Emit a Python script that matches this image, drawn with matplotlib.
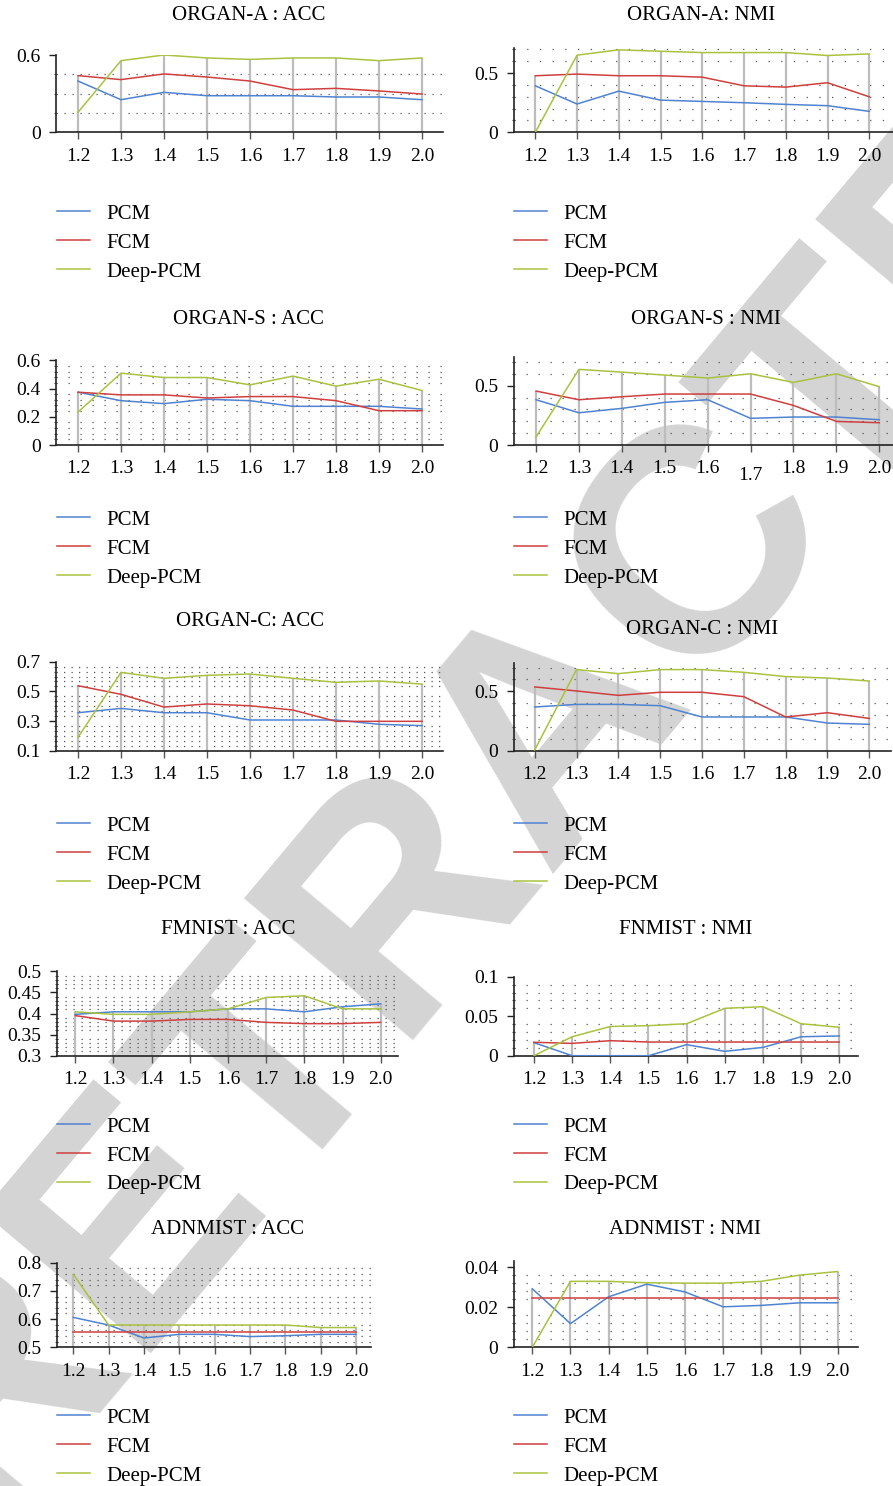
import numpy as np
import matplotlib
matplotlib.use("Agg")
import matplotlib.pyplot as plt
from matplotlib.ticker import MultipleLocator
import matplotlib.transforms as mtransforms

plt.rcParams['font.family'] = ['Liberation Serif', 'DejaVu Serif']
plt.rcParams['lines.scale_dashes'] = False

W, H = 893, 1486
DPI = 100

# ---------------- data ----------------
x_vals = [1.2, 1.3, 1.4, 1.5, 1.6, 1.7, 1.8, 1.9, 2.0]
x_labels = ['1.2', '1.3', '1.4', '1.5', '1.6', '1.7', '1.8', '1.9', '2.0']
methods = ['PCM', 'FCM', 'Deep-PCM']

organ_a_acc_pcm = [0.398, 0.253, 0.310, 0.284, 0.284, 0.284, 0.274, 0.274, 0.253]
organ_a_acc_fcm = [0.440, 0.409, 0.453, 0.429, 0.398, 0.331, 0.341, 0.321, 0.297]
organ_a_acc_deep = [0.155, 0.556, 0.600, 0.577, 0.566, 0.577, 0.577, 0.556, 0.577]

organ_a_nmi_pcm = [0.393, 0.239, 0.348, 0.272, 0.261, 0.250, 0.236, 0.225, 0.177]
organ_a_nmi_fcm = [0.478, 0.492, 0.478, 0.478, 0.466, 0.393, 0.382, 0.419, 0.300]
organ_a_nmi_deep = [0.000, 0.652, 0.697, 0.685, 0.674, 0.674, 0.674, 0.649, 0.663]

organ_s_acc_pcm = [0.374, 0.314, 0.293, 0.324, 0.314, 0.274, 0.274, 0.274, 0.255]
organ_s_acc_fcm = [0.374, 0.355, 0.355, 0.333, 0.343, 0.343, 0.314, 0.243, 0.243]
organ_s_acc_deep = [0.233, 0.509, 0.478, 0.478, 0.426, 0.488, 0.417, 0.466, 0.386]

organ_s_nmi_pcm = [0.382, 0.272, 0.309, 0.360, 0.382, 0.225, 0.236, 0.236, 0.213]
organ_s_nmi_fcm = [0.455, 0.382, 0.407, 0.430, 0.430, 0.430, 0.334, 0.199, 0.188]
organ_s_nmi_deep = [0.067, 0.638, 0.615, 0.590, 0.565, 0.601, 0.528, 0.601, 0.492]

organ_c_acc_pcm = [0.356, 0.385, 0.356, 0.356, 0.307, 0.307, 0.307, 0.278, 0.269]
organ_c_acc_fcm = [0.538, 0.480, 0.394, 0.415, 0.403, 0.374, 0.298, 0.298, 0.298]
organ_c_acc_deep = [0.190, 0.628, 0.588, 0.608, 0.617, 0.588, 0.561, 0.570, 0.549]

organ_c_nmi_pcm = [0.368, 0.390, 0.390, 0.379, 0.284, 0.284, 0.284, 0.233, 0.222]
organ_c_nmi_fcm = [0.537, 0.503, 0.466, 0.492, 0.492, 0.455, 0.284, 0.320, 0.272]
organ_c_nmi_deep = [0.006, 0.683, 0.649, 0.683, 0.683, 0.660, 0.624, 0.612, 0.587]

fmnist_acc_pcm = [0.398, 0.404, 0.404, 0.404, 0.411, 0.411, 0.404, 0.416, 0.423]
fmnist_acc_fcm = [0.395, 0.382, 0.382, 0.386, 0.386, 0.379, 0.376, 0.376, 0.379]
fmnist_acc_deep = [0.404, 0.398, 0.398, 0.404, 0.411, 0.438, 0.442, 0.411, 0.411]

fmnist_nmi_pcm = [0.0165, 0.0, 0.0, 0.0, 0.0140, 0.0055, 0.0105, 0.0240, 0.0250]
fmnist_nmi_fcm = [0.0170, 0.0156, 0.0190, 0.0173, 0.0173, 0.0173, 0.0173, 0.0173, 0.0173]
fmnist_nmi_deep = [0.0, 0.0240, 0.0370, 0.0380, 0.0405, 0.0600, 0.0620, 0.0405, 0.0360]

adnmist_acc_pcm = [0.606, 0.579, 0.533, 0.546, 0.546, 0.538, 0.541, 0.546, 0.546]
adnmist_acc_fcm = [0.555, 0.555, 0.555, 0.555, 0.555, 0.555, 0.555, 0.555, 0.555]
adnmist_acc_deep = [0.759, 0.579, 0.579, 0.579, 0.579, 0.579, 0.579, 0.570, 0.570]

adnmist_nmi_pcm = [0.0292, 0.0118, 0.0252, 0.0315, 0.0276, 0.0202, 0.0209, 0.0222, 0.0222]
adnmist_nmi_fcm = [0.0247, 0.0247, 0.0247, 0.0247, 0.0247, 0.0247, 0.0247, 0.0247, 0.0247]
adnmist_nmi_deep = [0.0, 0.0329, 0.0329, 0.0322, 0.0320, 0.0320, 0.0329, 0.0360, 0.0378]

titles = ['ORGAN-A : ACC', 'ORGAN-A: NMI', 'ORGAN-S : ACC', 'ORGAN-S : NMI',
          'ORGAN-C: ACC', 'ORGAN-C : NMI', 'FMNIST : ACC', 'FNMIST : NMI',
          'ADNMIST : ACC', 'ADNMIST : NMI']
series = [
    (organ_a_acc_pcm, organ_a_acc_fcm, organ_a_acc_deep),
    (organ_a_nmi_pcm, organ_a_nmi_fcm, organ_a_nmi_deep),
    (organ_s_acc_pcm, organ_s_acc_fcm, organ_s_acc_deep),
    (organ_s_nmi_pcm, organ_s_nmi_fcm, organ_s_nmi_deep),
    (organ_c_acc_pcm, organ_c_acc_fcm, organ_c_acc_deep),
    (organ_c_nmi_pcm, organ_c_nmi_fcm, organ_c_nmi_deep),
    (fmnist_acc_pcm, fmnist_acc_fcm, fmnist_acc_deep),
    (fmnist_nmi_pcm, fmnist_nmi_fcm, fmnist_nmi_deep),
    (adnmist_acc_pcm, adnmist_acc_fcm, adnmist_acc_deep),
    (adnmist_nmi_pcm, adnmist_nmi_fcm, adnmist_nmi_deep),
]
y_ticks = [
    [0, 0.6], [0, 0.5], [0, 0.2, 0.4, 0.6], [0, 0.5], [0.1, 0.3, 0.5, 0.7],
    [0, 0.5], [0.3, 0.35, 0.4, 0.45, 0.5], [0, 0.05, 0.1], [0.5, 0.6, 0.7, 0.8],
    [0, 0.02, 0.04],
]
y_ticklabels = [
    ['0', '0.6'], ['0', '0.5'], ['0', '0.2', '0.4', '0.6'], ['0', '0.5'],
    ['0.1', '0.3', '0.5', '0.7'], ['0', '0.5'],
    ['0.3', '0.35', '0.4', '0.45', '0.5'], ['0', '0.05', '0.1'],
    ['0.5', '0.6', '0.7', '0.8'], ['0', '0.02', '0.04'],
]
y_lims = [(0, 0.6), (0, 0.71), (0, 0.6), (0, 0.74), (0.1, 0.7), (0, 0.736),
          (0.3, 0.5), (0, 0.1), (0.5, 0.8), (0, 0.0432)]

# ---------------- layout (pixels) ----------------
rects = [
    (56, 443, 55, 132.3), (513.7, 893, 48.3, 132.3),
    (56, 443, 360.3, 445), (513.7, 893, 357.3, 445),
    (56, 443, 661.7, 750.7), (513.7, 891, 663.3, 750.7),
    (56.7, 398, 971.3, 1055.7), (513.7, 858.3, 976.7, 1055.7),
    (56.7, 370.7, 1262.7, 1347.3), (513.7, 857.7, 1260.7, 1347.3),
]
x_anchor = [
    (78, 422), (535.3, 869.3), (78, 422), (536, 879.3), (78, 422),
    (534.7, 869.3), (75.3, 380.7), (534, 839.3), (73.3, 356), (532.3, 837.7),
]
title_pos = [(249, 15), (701, 15), (248, 320), (706, 320), (250, 621),
             (702, 630), (228, 929), (686, 929), (228, 1229), (685, 1229)]
legend_pos = [(57, 212), (514, 212), (57, 518), (514, 518), (57, 824),
              (514, 824), (57, 1125), (514, 1125), (57, 1416), (514, 1416)]
grid_row_step = [0.15, 0.1, 0.04, 0.1, 1 / 30, 0.1, 0.01, 0.01, 0.02, 0.004]
grid_col_px = [8, 12.7, 12, 12, 7.5, 12, 8, 12, 8, 12]

colors = ['#4f83d1', '#cf3f3f', '#a9c23f']
drop_color = '#bdbdbd'
FS = 14
FS_T = 15

fig = plt.figure(figsize=(W / DPI, H / DPI), dpi=DPI)

# watermark behind the charts
wm = fig.text(552 / W, 1 - 721 / H, 'RETRACTED', fontsize=230, fontweight='bold',
              family='Liberation Sans', color='#d4d4d4', rotation=50,
              ha='center', va='center', zorder=-5)
wm.set_clip_on(True)

for i in range(10):
    l, r, t, b = rects[i]
    ax = fig.add_axes([l / W, 1 - b / H, (r - l) / W, (b - t) / H])
    ax.set_facecolor('none')
    x0p, x1p = x_anchor[i]
    per = (x1p - x0p) / 0.8
    ax.set_xlim(1.2 - (x0p - l) / per, 2.0 + (r - x1p) / per)
    ax.set_ylim(*y_lims[i])

    pcm, fcm, deep = series[i]
    top = np.max(np.vstack([pcm, fcm, deep]), axis=0)
    ax.vlines(x_vals, y_lims[i][0], top, color=drop_color, lw=1.6, zorder=1.5)
    for s, c, m in zip((pcm, fcm, deep), colors, methods):
        ax.plot(x_vals, s, color=c, lw=1.1, label=m, zorder=3)

    ax.yaxis.set_minor_locator(MultipleLocator(grid_row_step[i]))
    off = grid_col_px[i] * 0.72 - 0.9
    ax.grid(which='minor', axis='y', color='#555555', lw=0.9,
            linestyle=(0, (0.9, off)), zorder=0.5)
    ax.set_axisbelow(True)

    for sp in ['top', 'right']:
        ax.spines[sp].set_visible(False)
    for sp in ['left', 'bottom']:
        ax.spines[sp].set_color('#222222')
        ax.spines[sp].set_linewidth(1.2)

    ax.set_xticks(x_vals)
    ax.set_xticklabels(x_labels, fontsize=FS)
    ax.set_yticks(y_ticks[i])
    ax.set_yticklabels(y_ticklabels[i], fontsize=FS)
    ax.tick_params(axis='x', length=5, width=1, color='#555555', pad=6)
    ax.tick_params(axis='y', length=5, width=1, color='#222222', pad=6)
    ax.tick_params(axis='y', which='minor', length=1.5, width=0.8, color='#555555')
    ax.tick_params(axis='x', which='minor', length=0)

    if i == 3:
        for lab in ax.get_xticklabels():
            if lab.get_text() == '1.7':
                lab.set_transform(lab.get_transform() +
                                  mtransforms.ScaledTranslation(0, -5 / 72, fig.dpi_scale_trans))

    tx, ty = title_pos[i]
    fig.text(tx / W, 1 - ty / H, titles[i], fontsize=FS_T, ha='center', va='center')

    lx, ly = legend_pos[i]
    ax.legend(loc='upper left', bbox_to_anchor=(lx / W, 1 - (ly - 8) / H),
              bbox_transform=fig.transFigure, frameon=False, fontsize=FS_T,
              borderpad=0, borderaxespad=0, handlelength=1.6,
              handletextpad=0.75, labelspacing=0.45)

fig.savefig('out.png', dpi=DPI)
